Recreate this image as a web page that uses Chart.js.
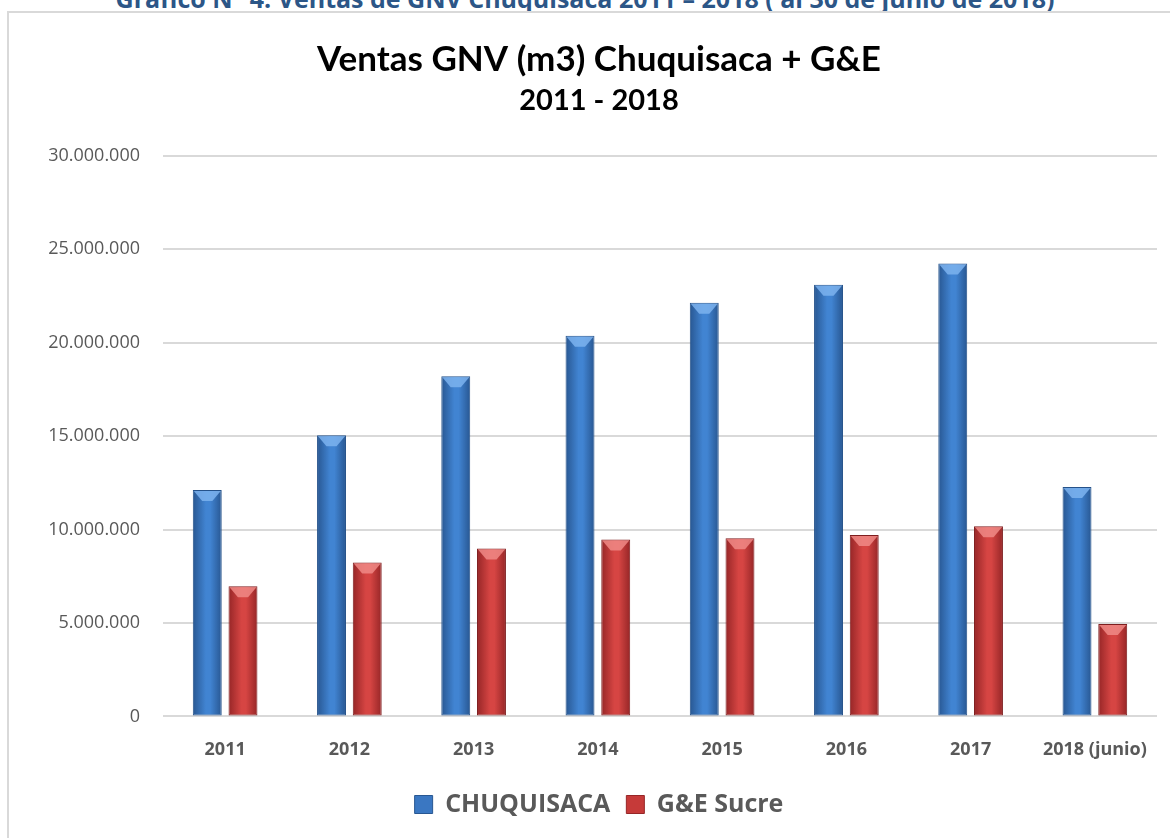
<!DOCTYPE html>
<html>
<head>
<meta charset="utf-8">
<script src="https://cdn.jsdelivr.net/npm/chart.js@4/dist/chart.umd.min.js"></script>
<style>
  html, body { margin: 0; padding: 0; background: #fff; width: 1170px; height: 838px; overflow: hidden; position: relative; }
  #caption { position: absolute; left: 0; width: 1170px; top: -17px; line-height: 30px; text-align: center; font-family: "Open Sans", sans-serif; font-weight: bold; font-size: 25px; color: #2C5687; white-space: nowrap; }
  #box { position: absolute; left: 7px; top: 11px; width: 1200px; height: 830px; border: 2px solid #d9d9d9; background: #fff; }
  #box canvas { display: block; }
</style>
</head>
<body>
<div id="caption">Gráfico N° 4. Ventas de GNV Chuquisaca 2011 – 2018 ( al 30 de junio de 2018)</div>
<div id="box"><canvas id="c" width="1200" height="819"></canvas></div>
<script>
const categories = ["2011", "2012", "2013", "2014", "2015", "2016", "2017", "2018 (junio)"];
const chuquisaca = [12120000, 15050000, 18200000, 20370000, 22140000, 23100000, 24230000, 12280000];
const geSucre = [6970000, 8240000, 8990000, 9470000, 9530000, 9710000, 10170000, 4950000];
const yTicks = [0, 5000000, 10000000, 15000000, 20000000, 25000000, 30000000];
const seriesNames = ["CHUQUISACA", "G&E Sucre"];

const CAT_PCT = 0.575, BAR_PCT = 0.81;
const palette = [
  { edge: "#285792", mid: "#4184D2", light: "#7DB3EE", solid: "#3A77C2" },
  { edge: "#962627", mid: "#D64543", light: "#F08A86", solid: "#C63A39" }
];

function barGradient(ctx) {
  const chart = ctx.chart;
  const pal = palette[ctx.datasetIndex];
  const xs = chart.scales.x;
  if (!xs || ctx.dataIndex === undefined || !isFinite(xs.width)) return pal.solid;
  const center = xs.getPixelForValue(ctx.dataIndex);
  const catW = xs.width / categories.length;
  const slot = catW * CAT_PCT / 2;
  const bc = center + (ctx.datasetIndex === 0 ? -slot / 2 : slot / 2);
  const hw = slot * BAR_PCT / 2;
  const g = chart.ctx.createLinearGradient(bc - hw, 0, bc + hw, 0);
  g.addColorStop(0, pal.edge);
  g.addColorStop(0.45, pal.mid);
  g.addColorStop(0.6, pal.mid);
  g.addColorStop(1, pal.edge);
  return g;
}

const bevelPlugin = {
  id: "bevel",
  afterDatasetsDraw(chart) {
    const c = chart.ctx;
    chart.data.datasets.forEach((ds, di) => {
      const meta = chart.getDatasetMeta(di);
      meta.data.forEach(el => {
        const hw = el.width / 2;
        const top = el.y;
        const d = Math.min(11, Math.abs(el.base - el.y));
        c.save();
        c.beginPath();
        c.moveTo(el.x - hw + 1, top + 1);
        c.lineTo(el.x + hw - 1, top + 1);
        c.lineTo(el.x + hw * 0.35, top + d);
        c.lineTo(el.x - hw * 0.35, top + d);
        c.closePath();
        c.fillStyle = palette[di].light;
        c.globalAlpha = 0.85;
        c.fill();
        c.restore();
      });
    });
  }
};

new Chart(document.getElementById("c"), {
  type: "bar",
  data: {
    labels: categories,
    datasets: [
      { label: seriesNames[0], data: chuquisaca, backgroundColor: barGradient, borderColor: "#25528A", borderWidth: 1, borderSkipped: false, categoryPercentage: CAT_PCT, barPercentage: BAR_PCT },
      { label: seriesNames[1], data: geSucre, backgroundColor: barGradient, borderColor: "#7E1E1F", borderWidth: 1, borderSkipped: false, categoryPercentage: CAT_PCT, barPercentage: BAR_PCT }
    ]
  },
  options: {
    responsive: false,
    animation: false,
    devicePixelRatio: 1,
    layout: { padding: { left: 32, right: 52, top: 0, bottom: 5 } },
    plugins: {
      tooltip: { enabled: false },
      title: {
        display: true,
        text: "Ventas GNV (m3) Chuquisaca + G&E",
        color: "#000",
        font: { family: "Lato", size: 35, weight: "bold" },
        padding: { top: 26, bottom: 2 }
      },
      subtitle: {
        display: true,
        text: "2011 - 2018",
        color: "#000",
        font: { family: "Lato", size: 29, weight: "bold" },
        padding: { top: 0, bottom: 38 }
      },
      legend: {
        position: "bottom",
        labels: {
          color: "#595959",
          font: { family: "Open Sans", size: 25, weight: "bold" },
          boxWidth: 18,
          boxHeight: 18,
          padding: 16,
          generateLabels(chart) {
            const items = Chart.defaults.plugins.legend.labels.generateLabels(chart);
            items.forEach((it, i) => { it.fillStyle = palette[i].solid; it.strokeStyle = palette[i].edge; it.lineWidth = 1; });
            return items;
          }
        }
      }
    },
    scales: {
      x: {
        grid: { display: false },
        border: { display: false },
        ticks: { color: "#595959", font: { family: "Open Sans", size: 18, weight: "bold" }, padding: 15 }
      },
      y: {
        min: 0,
        max: 30000000,
        afterBuildTicks(scale) { scale.ticks = yTicks.map(v => ({ value: v })); },
        afterFit(scale) { scale.width = 122; },
        grid: { color: "#d9d9d9", lineWidth: 2, drawTicks: false },
        border: { display: false },
        ticks: {
          color: "#595959",
          font: { family: "Open Sans", size: 18 },
          padding: 23,
          callback: v => String(v).replace(/\B(?=(\d{3})+(?!\d))/g, ".")
        }
      }
    }
  },
  plugins: [bevelPlugin]
});
</script>
</body>
</html>
